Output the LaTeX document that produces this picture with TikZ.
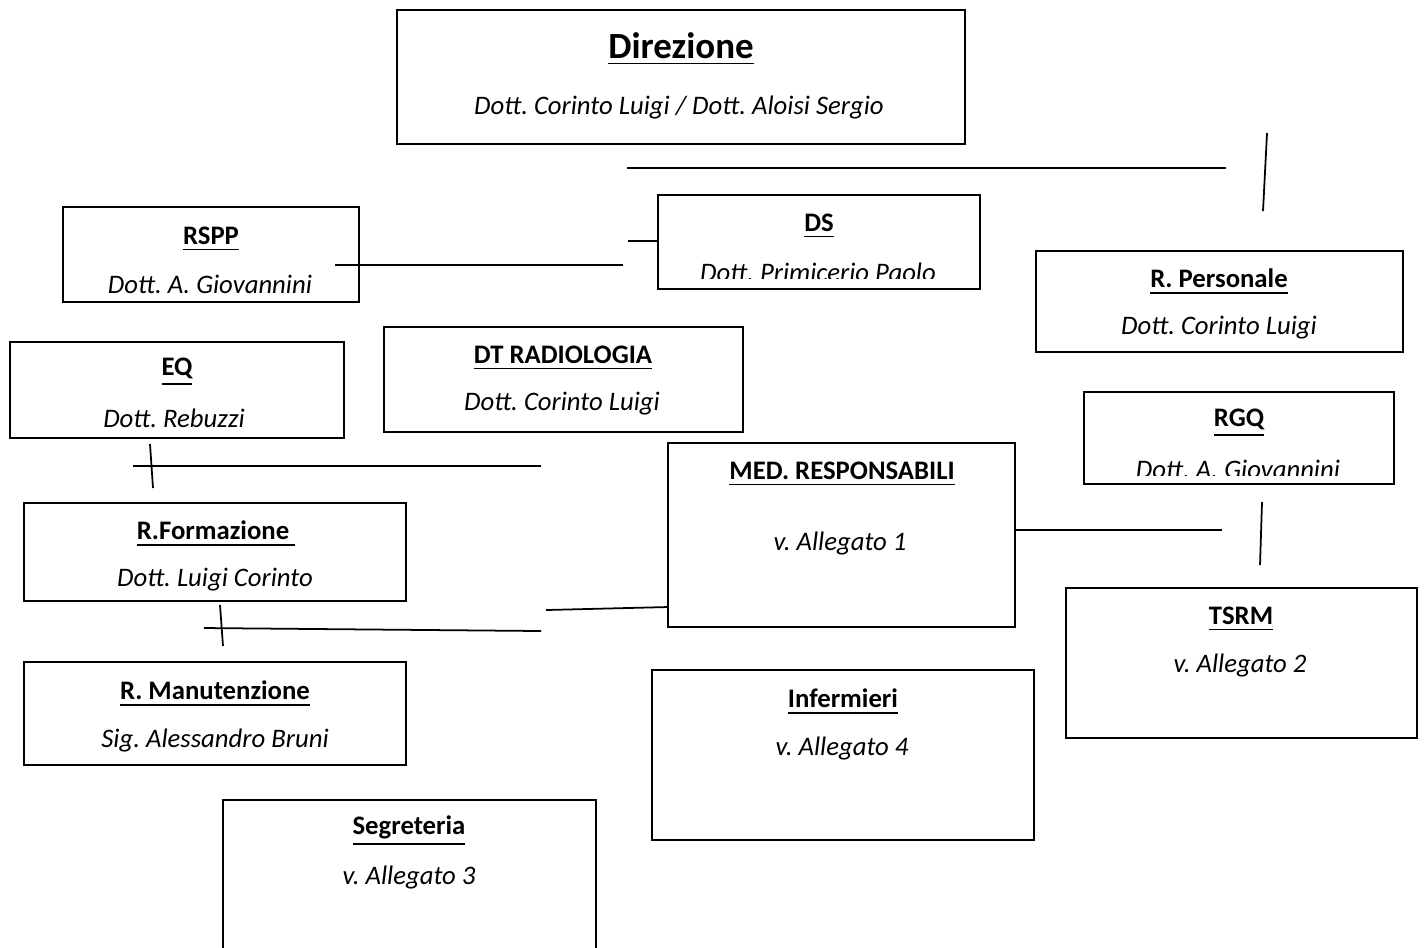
\documentclass[tikz,border=0pt]{standalone}
\usepackage{fontspec}
\setmainfont{Carlito}
\frenchspacing

\begin{document}
\begin{tikzpicture}[x=0.01cm, y=-0.01cm,
    box/.style={draw, line width=0.7pt, inner sep=0pt, outer sep=0pt},
    ttl/.style={font=\fontsize{7.6}{9}\selectfont\bfseries},
    who/.style={font=\fontsize{7.6}{9}\selectfont\itshape},
    wire/.style={line width=0.5pt}]
    \useasboundingbox (0,0) rectangle (1425,947);

    % Boxes
    \node[box, minimum width=5.68cm, minimum height=1.34cm] (dir) at (681,77) {};
    \node[box, minimum width=2.96cm, minimum height=0.95cm] (rspp) at (211,254.5) {};
    \node[box, minimum width=3.22cm, minimum height=0.94cm] (ds) at (819,242) {};
    \node[box, minimum width=3.67cm, minimum height=1.01cm] (pers) at (1219.5,301.5) {};
    \node[box, minimum width=3.34cm, minimum height=0.96cm] (eq) at (177,390) {};
    \node[box, minimum width=3.59cm, minimum height=1.05cm] (dt) at (563.5,379.5) {};
    \node[box, minimum width=3.10cm, minimum height=0.92cm] (rgq) at (1239,438) {};
    \node[box, minimum width=3.47cm, minimum height=1.84cm] (med) at (841.5,535) {};
    \node[box, minimum width=3.82cm, minimum height=0.98cm] (form) at (215,552) {};
    \node[box, minimum width=3.51cm, minimum height=1.50cm] (tsrm) at (1241.5,663) {};
    \node[box, minimum width=3.82cm, minimum height=1.03cm] (manut) at (215,713.5) {};
    \node[box, minimum width=3.82cm, minimum height=1.70cm] (inf) at (843,755) {};
    \node[box, minimum width=3.73cm, minimum height=1.60cm] (segr) at (409.5,880) {};

    % Titles
    \node[font=\fontsize{10.5}{12}\selectfont\bfseries] (dir-t) at (681,49) {\underline{Direzione}};
    \node[ttl] (rspp-t) at (211,239) {\underline{RSPP}};
    \node[ttl] (ds-t) at (819,226) {\underline{DS}};
    \node[ttl] (pers-t) at (1219,282) {\underline{R. Personale}};
    \node[ttl] (eq-t) at (177,372) {\underline{EQ}};
    \node[ttl] (dt-t) at (563,358) {\underline{DT RADIOLOGIA}};
    \node[ttl] (rgq-t) at (1239,423) {\underline{RGQ}};
    \node[ttl] (med-t) at (842,474) {\underline{MED. RESPONSABILI}};
    \node[ttl] (form-t) at (216,534) {\underline{R.Formazione\ }};
    \node[ttl] (tsrm-t) at (1241,619) {\underline{TSRM}};
    \node[ttl] (manut-t) at (215,694) {\underline{R. Manutenzione}};
    \node[ttl] (inf-t) at (843,702) {\underline{Infermieri}};
    \node[ttl] (segr-t) at (409,831) {\underline{Segreteria}};

    % Names
    \node[who] (dir-n) at (679,107) {Dott. Corinto Luigi / Dott. Aloisi Sergio};
    \node[who] (rspp-n) at (210,284) {Dott. A. Giovannini};
    \begin{scope}
        \clip (658,195) rectangle (980,278);
        \node[who] (ds-n) at (818,272) {Dott. Primicerio Paolo};
    \end{scope}
    \node[who] (pers-n) at (1219,328) {Dott. Corinto Luigi};
    \node[who] (eq-n) at (174,418) {Dott. Rebuzzi};
    \node[who] (dt-n) at (562,404) {Dott. Corinto Luigi};
    \begin{scope}
        \clip (1084,392) rectangle (1394,475);
        \node[who] (rgq-n) at (1238,469) {Dott. A. Giovannini};
    \end{scope}
    \node[who] (med-n) at (840,543) {v. Allegato 1};
    \node[who] (form-n) at (215,580) {Dott. Luigi Corinto};
    \node[who] (tsrm-n) at (1240,665) {v. Allegato 2};
    \node[who] (manut-n) at (215,740) {Sig. Alessandro Bruni};
    \node[who] (inf-n) at (842,748) {v. Allegato 4};
    \node[who] (segr-n) at (409,877) {v. Allegato 3};

    % Link ends
    \coordinate (top-a) at (627,168);
    \coordinate (top-b) at (1226,168);
    \coordinate (pers-a) at (1267,133);
    \coordinate (pers-b) at (1263,211);
    \coordinate (rspp-a) at (335,265);
    \coordinate (rspp-b) at (623,265);
    \coordinate (ds-a) at (628,241);
    \coordinate (eq-a) at (150,444);
    \coordinate (eq-b) at (153,488);
    \coordinate (eq-c) at (133,466);
    \coordinate (eq-d) at (541,466);
    \coordinate (form-a) at (220,605);
    \coordinate (form-b) at (223,646);
    \coordinate (form-c) at (204,628);
    \coordinate (form-d) at (541,631);
    \coordinate (med-a) at (546,610);
    \coordinate (med-b) at (1222,530);
    \coordinate (rgq-a) at (1262,502);
    \coordinate (rgq-b) at (1260,565);

    % Lines
    \draw[wire] (top-a) -- (top-b);
    \draw[wire] (pers-a) -- (pers-b);
    \draw[wire] (rspp-a) -- (rspp-b);
    \draw[wire] (ds-a) -- (ds-a -| ds.west);
    \draw[wire] (eq-a) -- (eq-b);
    \draw[wire] (eq-c) -- (eq-d);
    \draw[wire] (form-a) -- (form-b);
    \draw[wire] (form-c) -- (form-d);
    \draw[wire] (med-a) -- (med.west |- 0,607);
    \draw[wire] (med.east |- med-b) -- (med-b);
    \draw[wire] (rgq-a) -- (rgq-b);
\end{tikzpicture}
\end{document}
